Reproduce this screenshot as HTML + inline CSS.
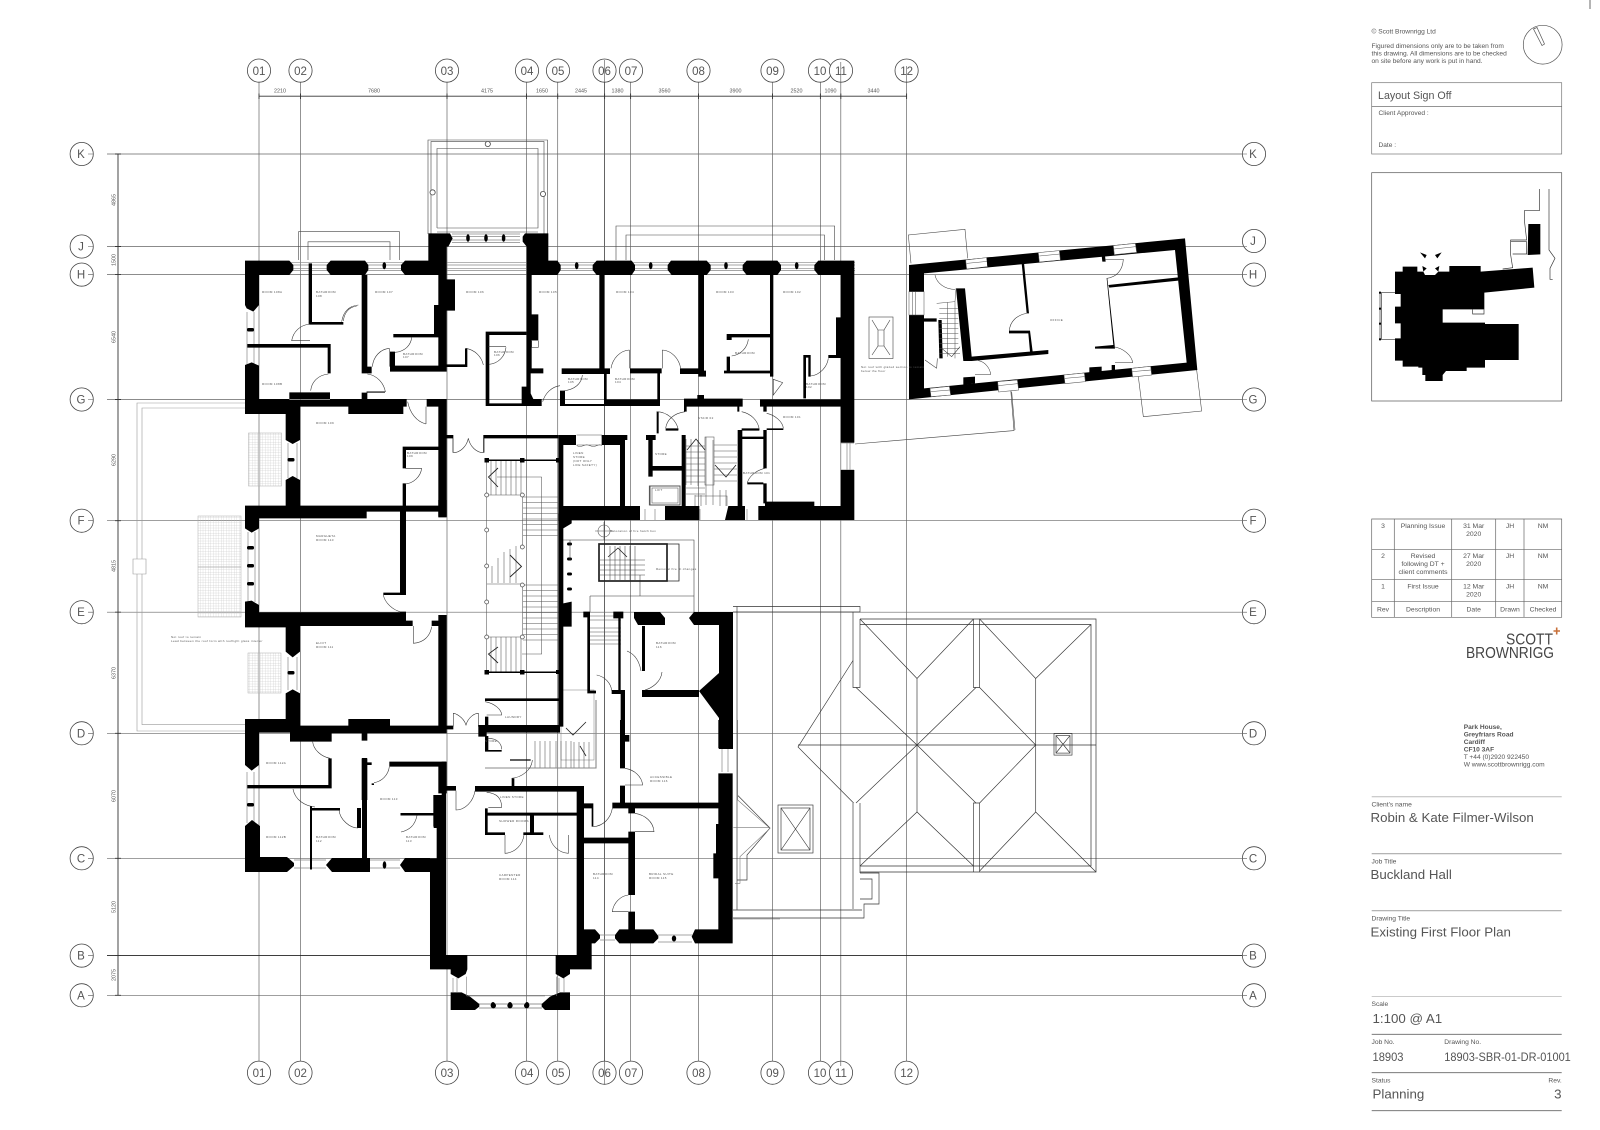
<!DOCTYPE html>
<html><head><meta charset="utf-8"><title>Existing First Floor Plan</title>
<style>html,body{margin:0;padding:0;background:#fff}svg{display:block;filter:blur(.3px)}text{font-family:"Liberation Sans",sans-serif;fill:#555}</style></head>
<body>
<svg xmlns="http://www.w3.org/2000/svg" width="1600" height="1130" viewBox="0 0 1600 1130">
<defs><pattern id="grid" width="2.6" height="2.6" patternUnits="userSpaceOnUse"><path d="M0 0H2.6M0 0V2.6" stroke="#bbb" stroke-width=".45" fill="none"/></pattern></defs>
<rect width="1600" height="1130" fill="#fff"/>

<!-- grid -->
<g stroke="#666" stroke-width=".7" fill="none">
<path d="M259 82V1061M300.5 82V1061M447 82V1061M526.5 82V1061M557.7 82V1061M630.6 82V1061M698.5 82V1061M772.5 82V1061M820.4 82V1061M840.8 82V1061M906.6 82V1061"/>
<path d="M604.6 82V1061" stroke="#222"/>
<path d="M107 154H1243M107 246.5H1243M107 274.6H1243M107 399.5H1243M107 520.7H1243M107 612.2H1243M107 733.3H1243M107 858.3H1243M107 995.3H1243"/>
<path d="M107 955.6H1243" stroke="#222" stroke-width=".9"/>
</g>
<g stroke="#333" stroke-width=".9" fill="none">
<path d="M259 96.2H906.6M118 154V995.3"/>
<path d="M259 93.5V99M300.5 93.5V99M447 93.5V99M526.5 93.5V99M557.7 93.5V99M604.6 93.5V99M630.6 93.5V99M698.5 93.5V99M772.5 93.5V99M820.4 93.5V99M840.8 93.5V99M906.6 93.5V99"/>
<path d="M115 154H121M115 246.5H121M115 274.6H121M115 399.5H121M115 520.7H121M115 612.2H121M115 733.3H121M115 858.3H121M115 955.6H121M115 995.3H121"/>
</g>
<g fill="#fff" stroke="#444" stroke-width=".8">
<circle cx="259" cy="70.6" r="11.6"/><circle cx="300.5" cy="70.6" r="11.6"/><circle cx="447" cy="70.6" r="11.6"/><circle cx="527" cy="70.6" r="11.6"/><circle cx="558" cy="70.6" r="11.6"/><circle cx="604.5" cy="70.6" r="11.6"/><circle cx="631" cy="70.6" r="11.6"/><circle cx="698.5" cy="70.6" r="11.6"/><circle cx="772.5" cy="70.6" r="11.6"/><circle cx="820" cy="70.6" r="11.6"/><circle cx="841" cy="70.6" r="11.6"/><circle cx="906.6" cy="70.6" r="11.6"/>
<circle cx="259" cy="1072.7" r="11.6"/><circle cx="300.5" cy="1072.7" r="11.6"/><circle cx="447" cy="1072.7" r="11.6"/><circle cx="527" cy="1072.7" r="11.6"/><circle cx="558" cy="1072.7" r="11.6"/><circle cx="604.5" cy="1072.7" r="11.6"/><circle cx="631" cy="1072.7" r="11.6"/><circle cx="698.5" cy="1072.7" r="11.6"/><circle cx="772.5" cy="1072.7" r="11.6"/><circle cx="820" cy="1072.7" r="11.6"/><circle cx="841" cy="1072.7" r="11.6"/><circle cx="906.6" cy="1072.7" r="11.6"/>
<circle cx="81.7" cy="154" r="11.6"/><circle cx="81.7" cy="246.5" r="11.6"/><circle cx="81.7" cy="274.6" r="11.6"/><circle cx="81.7" cy="399.5" r="11.6"/><circle cx="81.7" cy="520.7" r="11.6"/><circle cx="81.7" cy="612.2" r="11.6"/><circle cx="81.7" cy="733.3" r="11.6"/><circle cx="81.7" cy="858.3" r="11.6"/><circle cx="81.7" cy="955.6" r="11.6"/><circle cx="81.7" cy="995.3" r="11.6"/>
<circle cx="1254" cy="154" r="11.6"/><circle cx="1254" cy="241" r="11.6"/><circle cx="1254" cy="274.6" r="11.6"/><circle cx="1254" cy="399.5" r="11.6"/><circle cx="1254" cy="520.7" r="11.6"/><circle cx="1254" cy="612.2" r="11.6"/><circle cx="1254" cy="733.3" r="11.6"/><circle cx="1254" cy="858.3" r="11.6"/><circle cx="1254" cy="955.6" r="11.6"/><circle cx="1254" cy="995.3" r="11.6"/>
</g>
<g font-size="11.5" text-anchor="middle" style="fill:#444">
<text x="259" y="75">01</text><text x="300.5" y="75">02</text><text x="447" y="75">03</text><text x="527" y="75">04</text><text x="558" y="75">05</text><text x="604.5" y="75">06</text><text x="631" y="75">07</text><text x="698.5" y="75">08</text><text x="772.5" y="75">09</text><text x="820" y="75">10</text><text x="841" y="75">11</text><text x="906.6" y="75">12</text>
<text x="259" y="1077">01</text><text x="300.5" y="1077">02</text><text x="447" y="1077">03</text><text x="527" y="1077">04</text><text x="558" y="1077">05</text><text x="604.5" y="1077">06</text><text x="631" y="1077">07</text><text x="698.5" y="1077">08</text><text x="772.5" y="1077">09</text><text x="820" y="1077">10</text><text x="841" y="1077">11</text><text x="906.6" y="1077">12</text>
<text x="81" y="158">K</text><text x="81" y="250.5">J</text><text x="81" y="278.6">H</text><text x="81" y="403.5">G</text><text x="81" y="524.7">F</text><text x="81" y="616.2">E</text><text x="81" y="737.3">D</text><text x="81" y="862.3">C</text><text x="81" y="959.6">B</text><text x="81" y="999.3">A</text>
<text x="1253" y="158">K</text><text x="1253" y="245">J</text><text x="1253" y="278.6">H</text><text x="1253" y="403.5">G</text><text x="1253" y="524.7">F</text><text x="1253" y="616.2">E</text><text x="1253" y="737.3">D</text><text x="1253" y="862.3">C</text><text x="1253" y="959.6">B</text><text x="1253" y="999.3">A</text>
</g>
<!-- grid lines crossing into bubbles -->
<g stroke="#555" stroke-width=".6" fill="none">
<path d="M604.6 60V82M604.6 1061V1084M840.8 62V82M906.6 66V82M840.8 1061V1066"/>
<path d="M88 154H93.5M88 246.5H93.5M88 274.6H93.5M88 399.5H93.5M88 520.7H93.5M88 612.2H93.5M88 733.3H93.5M88 858.3H93.5M88 955.6H93.5M88 995.3H93.5"/>
<path d="M1243 154H1247M1243 246.5H1247M1243 274.6H1247M1243 399.5H1247M1243 520.7H1247M1243 612.2H1247M1243 733.3H1247M1243 858.3H1247M1243 955.6H1247M1243 995.3H1247"/>
</g>
<g font-size="5.4" text-anchor="middle" style="fill:#333">
<text x="280" y="92.5">2210</text><text x="374" y="92.5">7680</text><text x="487" y="92.5">4175</text><text x="542" y="92.5">1650</text><text x="581" y="92.5">2445</text><text x="617.5" y="92.5">1380</text><text x="664.5" y="92.5">3560</text><text x="735.5" y="92.5">3900</text><text x="796.5" y="92.5">2520</text><text x="830.5" y="92.5">1090</text><text x="873.5" y="92.5">3440</text>
<text transform="translate(115.5,200) rotate(-90)">4865</text><text transform="translate(115.5,260) rotate(-90)">1500</text><text transform="translate(115.5,337) rotate(-90)">6540</text><text transform="translate(115.5,460) rotate(-90)">6290</text><text transform="translate(115.5,566) rotate(-90)">4815</text><text transform="translate(115.5,673) rotate(-90)">6370</text><text transform="translate(115.5,796) rotate(-90)">6070</text><text transform="translate(115.5,907) rotate(-90)">5120</text><text transform="translate(115.5,975) rotate(-90)">2075</text>
</g>

<!-- terraces, balconies, roof outlines -->
<g fill="none" stroke="#444" stroke-width=".6">
<path d="M428 234V140H547.5V234M431 234V141.6H544V234M437 228V148.5H538V228H437M437 232H538"/>
<path d="M298.5 260V231.7H399.5V260M308 260V241.8H390V260"/>
<path d="M616 260V226H834.7V260M626 260V235H824.5V260"/>
<path d="M245 403H137V731H245M245 408H142V724.6H245" stroke="#999"/>
<path d="M133 559H146V574H133Z" stroke="#999" fill="#fff"/>
<path d="M855 444L1014 430.6L1010.7 389"/>
<rect x="869" y="317" width="24" height="41.5"/><path d="M872 320L878 330V346L872 355M890 320L884 330V346L890 355M878 330H884M878 346H884"/>
</g>
<g fill="#fff" stroke="#444" stroke-width=".8"><circle cx="487.8" cy="144" r="2.6"/><circle cx="432.6" cy="192.4" r="2.6"/><circle cx="543" cy="194" r="2.6"/></g>
<g fill="url(#grid)" stroke="#aaa" stroke-width=".5"><rect x="248.5" y="433" width="33" height="53"/><rect x="198" y="516" width="43" height="51"/><rect x="198" y="567" width="43" height="50"/><rect x="248" y="653" width="33" height="40"/></g>
<g fill="none" stroke="#333" stroke-width=".65">
<path d="M733 606.5H860V612H733M737 606.5V910M853 612V687.5H860V619M853 803V909M860 803V873"/>
<path d="M860 619H1096V872H860M860 624.5H1091V866H860" stroke-width=".7"/>
<path d="M973.5 619V687.5H979.6V619M973.5 872V803H979.6V872"/>
<path d="M860 619L917 678.5L973.5 619M979.6 619L1035.7 678.5L1091 624.5M917 678.5V812M1035.7 678.5V812"/>
<path d="M853 660.5L798 747L853.6 803M856 687.5L917 745L976 687.5M979.6 687.5L1035.7 745L979.6 803M976 803L917 745L856 803"/>
<path d="M860 866L917 812L973.5 866M979.6 871L1035.7 812L1096 872M798 745H1096" />
<path d="M860 873H879V904H864V918H733M733 910H862M860 879H872V899H860"/>
<path d="M738 795.6L770 828L747 855V880H737"/>
<rect x="778" y="805" width="35" height="48"/><rect x="781" y="808" width="29" height="42" /><path d="M781 808L810 850M810 808L781 850"/>
<rect x="1054" y="733.6" width="18" height="21.5"/><rect x="1056" y="735.6" width="14" height="17.5"/><path d="M1056 735.6L1070 753M1070 735.6L1056 753"/>
</g>

<!-- windows -->
<g stroke="#888" stroke-width=".7" fill="none">
<path d="M290 262.7H855M290 265H855M290 268.3H855M290 270.5H855"/>
<path d="M452 234H520M452 236.5H520M452 240H520M452 242.5H520"/>
<path d="M247 312V368M254 312V368M288 443V478M297 443V478M288 657V690M297 657V690M248 532V602M255 532V602M247 772V823M254 772V823"/>
<path d="M294 860H326M294 868H326M370 860H400M370 868H400M600 935H615M600 940H615M658 935H692M658 942H692"/>
<path d="M453 978V992M457 978V992M559 978V992M564 978V992"/>
<path d="M479 1004H542M479 1008H542" stroke="#aaa" stroke-width="1.2"/>
<path d="M847 443V470M850 443V470M841 443H854M841 470H854"/>
<path d="M722 749V772M728 749V772"/>
<path d="M645 509V520M655 509V520M700 509V520M740 509V520M747 509V520"/>
</g>
<g fill="#000"><ellipse cx="468" cy="238" rx="1.8" ry="3.8"/><ellipse cx="486" cy="238" rx="1.8" ry="3.8"/><ellipse cx="503.6" cy="238" rx="1.8" ry="3.8"/><ellipse cx="384.3" cy="265.7" rx="1.8" ry="3.6"/><ellipse cx="576.7" cy="265.7" rx="1.8" ry="3.6"/><ellipse cx="650.7" cy="265.7" rx="1.8" ry="3.6"/><ellipse cx="726" cy="265.7" rx="1.8" ry="3.6"/><ellipse cx="796.7" cy="265.7" rx="1.8" ry="3.6"/>
<rect x="247" y="328" width="7" height="3.5" rx="1.5"/><rect x="287.5" y="458" width="7" height="3.5" rx="1.5"/><rect x="247" y="546" width="7" height="3.5" rx="1.5"/><rect x="247" y="564" width="7" height="3.5" rx="1.5"/><rect x="247" y="582" width="7" height="3.5" rx="1.5"/><rect x="287.5" y="671" width="7" height="3.5" rx="1.5"/><rect x="247" y="803" width="7" height="3.5" rx="1.5"/>
<ellipse cx="384.5" cy="865" rx="1.8" ry="3.8"/><ellipse cx="674" cy="938.5" rx="2.2" ry="3"/><ellipse cx="493" cy="1005" rx="2.2" ry="3"/><ellipse cx="510" cy="1005" rx="2.2" ry="3"/><ellipse cx="527" cy="1005" rx="2.2" ry="3"/>
<rect x="567" y="542.5" width="5" height="3" rx="1.5"/><rect x="567" y="557.5" width="5" height="3" rx="1.5"/><rect x="567" y="572.5" width="5" height="3" rx="1.5"/><rect x="567" y="587.5" width="5" height="3" rx="1.5"/></g>

<!-- stairs main -->
<g fill="none" stroke="#555" stroke-width=".55">
<path d="M491 461V495M496 461V495M501 461V495M506 461V495M511 461V495M516 461V495M521 461V495"/>
<path d="M523 497H558M523 502.5H558M523 508H558M523 513.5H558M523 519H558M523 524.5H558M523 530H558M523 535.5H558M523 585H558M523 590.5H558M523 596H558M523 601.5H558M523 607H558M523 612.5H558M523 618H558M523 623.5H558M523 629H558M523 634.5H558M523 640H558"/>
<path d="M491 637V672M496 637V672M501 637V672M506 637V672M511 637V672M516 637V672M521 637V672"/>
<path d="M541.7 477V654H522M497 477H541.7M486.7 460V672M522.3 495V547M522.3 585V637M486.7 495H522.3M486.7 637H522.3M486.7 584H522.3"/>
<path d="M492 583V566M498 583V558M504 583V552M510 583V549M516 583V546"/>
</g>
<g fill="none" stroke="#222" stroke-width=".9"><path d="M498 468L488.5 477L498 487M510 555L521.5 566.5L510 577M498 647L488.5 654L498 663"/></g>
<g fill="#fff" stroke="#444" stroke-width=".7"><circle cx="486.7" cy="495" r="2"/><circle cx="486.7" cy="530" r="2"/><circle cx="486.7" cy="566" r="2"/><circle cx="486.7" cy="602" r="2"/><circle cx="486.7" cy="637" r="2"/><circle cx="522.3" cy="495" r="2"/><circle cx="522.3" cy="547" r="2"/><circle cx="522.3" cy="585" r="2"/><circle cx="522.3" cy="637" r="2"/></g>
<g fill="#000"><rect x="484.5" y="458" width="4.5" height="4.5"/><rect x="520" y="458" width="4.5" height="4.5"/><rect x="556" y="458" width="4.5" height="4.5"/><rect x="484.5" y="670" width="4.5" height="4.5"/><rect x="520" y="670" width="4.5" height="4.5"/><rect x="556" y="670" width="3" height="4"/><path d="M486 459.5H560V461H486ZM486 671.5H560V673H486Z"/></g>

<!-- east stair 02 & service stair -->
<g fill="none" stroke="#555" stroke-width=".55">
<path d="M686 439V485M691 439V485M698 440V486" />
<path d="M686 446H705M686 452H705M686 458H705M686 464H705M686 470H705M686 476H705M686 482H705M686 488H705M686 494H705"/>
<path d="M714 445H737M714 451H737M714 457H737M714 463H737M714 469H737M714 475H737M714 481H737"/>
<rect x="705" y="437" width="9" height="48" fill="#fff"/>
<path d="M706 437V505M713 440V505M695 495V506M701 495V506M720 490V506M726 490V506M695 496H727V506"/>
<rect x="650" y="486" width="30" height="19" stroke="#333" stroke-width=".8"/><rect x="652" y="488" width="26" height="15"/>
<path d="M560 540H694V596H640V575M570 540V560M694 540V612M590 596H694M590 596V612" stroke="#333"/>
<path d="M600 560H645M600 565H645M600 570H645M600 575H645M610 546V580M615 546V580M620 546V580M625 546V580M630 546V580M635 546V580" stroke="#444"/>
<path d="M590 628H621M590 632H621M590 636H621M590 640H621M590 644H621M590 620H621M590 616H621" />
<rect x="561" y="690" width="33" height="70" stroke="#888"/>
<path d="M574 742V768M579 742V768M584 742V768M589 742V768M556 741V768M561 741V768M566 741V768M571 741V768M540 741V768M545 741V768M550 741V768M535 741V768"/>
<path d="M485 768H596V700" stroke="#888" stroke-width="1.1"/>
<circle cx="604" cy="531" r="6"/><path d="M595 531H613M604 522V540" />
</g>
<g fill="none" stroke="#222" stroke-width=".8"><path d="M608 557L618 548L627 557M566 728L573 735L586 722M580 746L586 756"/>
<path d="M687 450L696 439L705 450M715 465L726 477L736 465"/>
<rect x="599" y="544" width="68" height="37" stroke="#222" stroke-width="1.7"/><path d="M667 544H679V581H667"/></g>

<!-- doors & black: upper west -->
<g transform="translate(230,220) scale(.33333)">
<path fill="#000" fill-rule="evenodd" d="M45 122H178L190 135V150L178 165H87V255L70 275L50 265L45 255Z
M45 435L65 427L87 437V537H530V560H520V582H355V560H210V660L188 672L167 660V582H45Z
M178 517H300V540H178Z M167 780L188 768L210 780V860H167Z
M590 537H650V890H625V560H590Z
M302 122H405L415 135V150L405 165H302L290 150V135Z
M595 40H660L668 55L655 80H650V178H675V272H650V455H480V395H495V437H625V352H490V342H612V255H625V165H525L513 150V135L525 122H595Z
M395 165H412V440H425V460H395Z M236 130H246V306H340V314H236Z M52 372H302V460H293V383H52Z
M395 518H412V537H395Z M410 515H465V518H410Z
M650 433H705V385H712V441H650Z M767 335H890V345H778V550H890V558H767Z
M518 680H625V690H528V745H518Z M518 790H528V860H518Z
M650 645H670V698H668V655H650Z M760 655H985V645H760V698H763V655Z"/>
<g fill="none" stroke="#333" stroke-width="1.7">
<path d="M385 255C355 258 340 275 335 305M380 258C357 262 343 278 340 303M240 312C210 315 190 335 185 362H240M295 462C265 465 245 485 242 512M412 462C440 465 462 490 466 515H410M478 385C450 388 430 410 427 440M478 385V440M545 352C543 375 525 395 495 397M708 385C735 390 755 410 760 435M828 382C825 410 805 430 778 433M775 380H828M533 545C540 580 560 605 588 612M588 560V612M670 698C690 698 710 680 715 655C720 680 740 698 760 698M575 745C572 770 550 790 525 792M525 745H575"/>
</g></g>
<!-- upper east -->
<g transform="translate(500,220) scale(.33333)">
<path fill="#000" d="M68 50L75 40H145V122H172L182 135V150L172 165H95V283H115V360H95V445H130V460H92V520L100 537H125V558H65V500H80V80L68 65Z
M290 122H395L405 135V150L395 165H312V445H330V462H185V445H298V165H290L278 150V135Z
M513 122H620L632 135V150L620 165H612V452H618V470H595V462H540V445H595V165H515L503 150V135Z
M740 122H832L843 135V150L832 165H820V470H810V165H740L728 150V135Z
M955 122H1063V668H1022V405H1008V292H1022V165H955L943 150V135Z
M775 858H795V845H943V858H1022V750H1063V900H775Z
M910 405H932V470H925V413H918V535H910Z M985 405H1022V414H985Z
M680 342H810V352H695V360H680Z M680 410H690V452H810V460H672V452H680Z
M390 445H485V460H480V538H472V460H390Z M312 450H320V538H480V558H312Z M180 512H195V552H312V558H180Z
M552 536H592V525H612V536H728V560H718V575H712V560H560V575H552Z
M780 538H1022V560H800V575H790V560H780Z
M470 575H476V640H470Z M497 625H535V632H497Z M725 625H778V632H725Z M800 625H850V630H800Z
M438 645H467V660H458V738H545V645H557V858H545V752H458V770H445V660H438Z
M713 630H727V650H790V630H800V745H790V657H727V860H713Z M790 790H800V850H790Z M742 787H790V793H742Z
M175 645H228V675H190V858H175Z M305 645H382V660H375V858H360V675H305Z
M175 858H420V900H175Z M495 858H598V900H495Z M685 858H735V900H675Z"/>
<rect x="95" y="362" width="20" height="20" fill="#fff" stroke="#333" stroke-width="1.7"/>
<rect x="448" y="798" width="92" height="57" fill="none" stroke="#555" stroke-width="2.5"/>
<path d="M230 645H305V650M230 675H305M230 677Q240 682 250 677T270 677T290 677T305 677" fill="none" stroke="#555" stroke-width="1.7"/>
<g fill="none" stroke="#333" stroke-width="1.7">
<path d="M388 390C360 392 338 415 333 445M388 390V445M487 390C515 392 537 415 542 445M487 390V445M745 358C742 385 720 405 695 408M247 465C245 490 225 510 187 513M180 497C155 500 135 520 128 545M848 488L820 478V525ZM985 415C982 440 960 465 932 468M470 575C500 575 530 600 535 630M555 575C520 580 500 600 497 625M725 575C750 580 775 600 778 630M800 580C825 585 848 605 850 625M795 745C770 750 745 770 742 790"/>
</g></g>
<!-- middle west -->
<g transform="translate(230,500) scale(.33333)">
<path fill="#000" d="M45 17H625V0H650V52H625V35H410V55H87V85L65 98L45 85Z
M510 35H528V285H460V278H510Z
M45 305L65 302L87 315V337H510V335H528V362H548V378H210V455L188 472L167 455V382H45Z
M605 362H625V345H650V678H625V378H605Z
M188 568L210 580V677H355V657H480V677H670V688H650V700H412V722H395V700H305V725H180V698H87V795L65 812L45 795V657H167V580Z
M745 675H990V698H770V710H745Z M765 650H775V675H765Z M765 595H985V603H765Z
M985 40H1025V70L1000 85V310L1025 305V380H1000V680H985Z
M1060 335H1080V572H1098V580H1072V352H1060Z M1150 335H1180V355H1172V570H1185V800H1172V582H1145V570H1165V355H1150Z
M395 775H412V900H395Z M412 787H425V850H432V855H425V795H412Z M478 785H650V880H625V800H478Z M295 775H305V865H52V855H295Z
M765 708H775V750H815V755H765Z"/>
<g fill="none" stroke="#333" stroke-width="1.7">
<path d="M460 285C465 310 490 330 510 335M550 378V430M605 380C600 410 580 428 550 430M670 680V640C675 640 700 650 708 675C715 650 735 640 745 640V680M765 605C795 610 815 630 815 645H770M775 715C800 715 815 730 815 748M248 725C250 750 275 770 300 775M432 848C455 845 475 825 478 800M1100 525C1125 530 1143 550 1145 572"/>
</g></g>
<!-- lower centre -->
<g transform="translate(420,720) scale(.33333)">
<path fill="#000" d="M65 125H78V705H142V748L137 762L115 775L92 762V748H30V455H0V415H50V320H40V225H65Z
M78 198H108V212H78Z
M165 198H492V250H520V320H515V265H492V628H525L540 645V655L525 670H515V748H450V762L430 775L407 762V705H470V215H165Z
M585 645L598 628H700L715 648V655L700 670H598L585 655Z
M815 650L825 628H895V160H938V670H825Z M895 0H938V85H895Z M880 400H895V475H880Z M888 312H895V400H888Z
M600 0H615V45H628V65H615V145H600Z
M600 197H615V248H895V265H577V248H600Z
M625 265H645V280H625Z M625 335H645V525H625Z M625 575H645V630H625Z M492 353H625V370H492Z
M195 265H203V278H470V287H342V337H370V345H310V337H330V287H203V337H255V345H195Z
M275 175H283V198H275Z M270 118H332V122H270Z
M92 817H125L150 830L178 852V860L165 870H92Z M450 817V870H375L365 860V852L390 830L420 817Z"/>
<g fill="none" stroke="#333" stroke-width="1.7">
<path d="M108 212V270C135 270 160 245 165 212M200 217C235 220 245 240 245 262H205M275 175C305 172 335 150 337 120M255 345V400C285 398 308 375 312 345M445 345V400C415 398 392 375 388 345M520 320C550 318 572 295 577 265M615 145C645 150 665 170 668 195H615M645 280C675 285 700 305 702 335H645M625 525C600 528 580 550 577 575H625"/>
<path stroke="#777" d="M140 770V828M410 770V828M140 828H375M953 0V240L1050 325L960 410V490H945M940 323H1050M940 570H1080M940 597H1080"/>
</g>
<g fill="#000"><ellipse cx="220" cy="857" rx="8" ry="8"/><ellipse cx="270" cy="857" rx="8" ry="8"/><ellipse cx="320" cy="857" rx="8" ry="8"/></g>
</g>
<!-- real coordinate walls -->
<path fill="#000" d="M245 826L252 820L260 826V857H287L294 863V866L287 872H245Z M332 858H370V872H332L326 865Z M400 865L405 858H430V872H405Z
M362 758H367V860H362Z M310 806H312V869.5H310Z M310 808H340V810.5H310Z M357 808H361V828H357Z M400.5 813H433.7V815.5H400.5Z M433.7 795.6H439V828H433.7Z
M634 612H660L665 618V625H638L634 618Z M689 618L694 612H733V749H719V625H694Z M642 626H645V671H642Z
M719 673L699 691L719 718Z M642 690H699V697H642Z"/>
<g fill="none" stroke="#333" stroke-width=".6">
<path d="M627 651C637 655 640 665 641 671M662 672C661 682 652 688 645 690M293 789C295 800 305 806 315 807M339 810C340 820 350 828 358 828M417 815.5C415 825 410 830 401 832"/>
</g>

<!-- outbuilding -->
<g transform="translate(900,220) scale(.33333)">
<path fill="none" stroke="#444" stroke-width="1.7" d="M33 130L25 45L195 28L203 115M345 630L335 515M730 590L905 573L890 450M730 590L715 470"/>
<path fill="#000" fill-rule="evenodd" d="M27 135L855 55L892 450L27 538Z M72 160L825 90L860 428L72 505Z"/>
<g fill="#fff" stroke="#555" stroke-width="1.6">
<path d="M197 120L260 113L263 140L200 147ZM415 98L478 92L481 120L418 126ZM640 77L706 70L710 97L643 104ZM90 505L148 499L152 525L93 530ZM293 485L352 480L356 510L296 516ZM492 465L553 459L556 485L495 491ZM695 445L752 439L755 465L698 471Z"/>
<rect x="27" y="215" width="45" height="70"/>
<path d="M200 130L262 124M418 108L480 102M642 87L708 80M92 515L150 510M295 497L354 491M494 475L554 470M697 455L753 450M37 215V285M47 215V285" fill="none"/>
</g>
<path fill="#000" d="M168 205H195L215 410L445 390V402L215 423H190Z M260 112L315 110V135L262 140Z M315 122L415 112L416 125L315 132Z M365 130L372 128L387 280H380ZM327 332L390 332L398 395H390L385 340L327 340Z M612 175L620 175L640 375L585 380V386H645L622 175Z M625 195L835 172L835 182L628 203Z M568 442L605 440V455L568 458Z M635 435H645V450H635Z M605 107L615 107L617 125L607 125Z M72 295H110V305H72Z M115 300H125L128 415H118Z M190 472L225 470V490L190 495Z"/>
<g fill="none" stroke="#333" stroke-width="1.6">
<path d="M105 165C110 190 135 208 165 208M235 422C255 425 270 445 272 463H225M328 332C330 305 350 285 380 280M620 175C650 172 668 150 670 118H615M640 380C670 385 695 405 698 428H645M110 445L75 420M110 445L112 415"/>
<path stroke="#555" d="M110 250L165 245V415M118 265H175M118 280H175M118 295H175M118 310H175M118 325H175M118 340H175M118 355H175M118 370H175M118 385H178M118 400H180M143 247V410M165 245L168 205"/>
<path stroke="#222" d="M125 385L155 410L180 380"/>
</g></g>

<!-- tiny room labels -->
<g font-size="3" style="fill:#777" letter-spacing=".35">
<text x="262" y="293">ROOM 108A</text><text x="316" y="293">BATHROOM</text><text x="316" y="297">108</text><text x="375" y="293">ROOM 107</text><text x="466" y="293">ROOM 106</text><text x="539" y="293">ROOM 105</text><text x="616" y="293">ROOM 104</text><text x="716" y="293">ROOM 103</text><text x="783" y="293">ROOM 102</text>
<text x="262" y="385">ROOM 108B</text><text x="403" y="355">BATHROOM</text><text x="403" y="358">107</text><text x="494" y="353">BATHROOM</text><text x="494" y="356">106</text><text x="568" y="380">BATHROOM</text><text x="568" y="383">105</text><text x="615" y="380">BATHROOM</text><text x="615" y="383">104</text><text x="735" y="354">BATHROOM</text><text x="806" y="385">BATHROOM</text><text x="806" y="388">102</text>
<text x="316" y="424">ROOM 109</text><text x="407" y="454">BATHROOM</text><text x="407" y="457">109</text><text x="698" y="419">STAIR 02</text><text x="655" y="455">STORE</text><text x="655" y="491">LIFT</text><text x="743" y="474">BATHROOM 101</text><text x="783" y="418">ROOM 101</text><text x="573" y="454">LINEN</text><text x="573" y="458">STORE</text><text x="573" y="462">(NOT ONLY</text><text x="573" y="466">LIFE SAFETY)</text>
<text x="316" y="537">MARGHETA</text><text x="316" y="541">ROOM 110</text><text x="316" y="644">ELIOT</text><text x="316" y="648">ROOM 111</text>
<text x="266" y="764">ROOM 112A</text><text x="266" y="838">ROOM 112B</text><text x="316" y="838">BATHROOM</text><text x="316" y="842">112</text><text x="380" y="800">ROOM 113</text><text x="406" y="838">BATHROOM</text><text x="406" y="842">113</text>
<text x="505" y="718">LAUNDRY</text><text x="485" y="742">STORE</text><text x="500" y="798">LINEN STORE</text><text x="499" y="822">SHOWER ROOMS</text><text x="499" y="876">CARPENTER</text><text x="499" y="880">ROOM 114</text><text x="593" y="875">BATHROOM</text><text x="593" y="879">114</text><text x="649" y="875">BRIDAL SUITE</text><text x="649" y="879">ROOM 115</text><text x="650" y="778">ACCESSIBLE</text><text x="650" y="782">ROOM 116</text><text x="656" y="644">BATHROOM</text><text x="656" y="648">116</text>
<text x="1050" y="321">OFFICE</text>
<text x="171" y="638">Not roof to remain</text><text x="171" y="642">Lead between the roof form with rooflight glass interior</text>
<text x="861" y="368">Not roof with glazed section to remain</text><text x="861" y="372">below the floor</text>
<text x="610" y="532">Relocation of fire hatch box</text><text x="656" y="570">Removal fire fit changes</text>
</g>

<!-- title block -->
<path d="M1590 0V9" stroke="#444" stroke-width=".8"/>
<g font-size="6.6"><text x="1371.5" y="33.5">© Scott Brownrigg Ltd</text><text x="1371.5" y="48">Figured dimensions only are to be taken from</text><text x="1371.5" y="55.5">this drawing. All dimensions are to be checked</text><text x="1371.5" y="63">on site before any work is put in hand.</text></g>
<g fill="none" stroke="#555" stroke-width=".7"><circle cx="1542.7" cy="44.7" r="19.4"/><path d="M1533.5 29L1537 27.5L1544.5 44L1542 45.5Z"/>
<rect x="1371.7" y="82.7" width="190" height="71.3" stroke="#777"/><path d="M1371.7 106.7H1561.7"/><rect x="1371.7" y="172.7" width="190" height="228.3"/></g>
<text x="1378" y="99" font-size="10.7">Layout Sign Off</text><text x="1378.5" y="115" font-size="6.6">Client Approved :</text><text x="1378.5" y="147" font-size="6.6">Date :</text>
<g transform="translate(1360,0) scale(.33333)">
<path fill="#000" d="M105 815H128V800H172V815H190L195 825H225L235 815H268V798H362V815L518 803L523 863L373 878V928H248V968H375V972H476V1080H375V1103H320V1113H258L248 1125V1143H196V1125H187V1103H175V1100H128V1082H105V1015H122V970H105V920H122V882H105Z M505 672H541V763L503 765Z M180 757L200 765L195 775ZM245 757L225 765L232 775ZM187 798L200 805L190 815ZM238 798L225 805L235 815Z"/>
<g fill="none" stroke="#333" stroke-width="2"><path d="M538 567V632H493V660L500 720H452V765L458 803L428 807M567 567V750L585 775L570 805V838H578M60 878H105M60 878V1018H105M64 878V1018M452 725H500V762H458M338 928V942H372V928"/></g>
<rect x="57" y="875" width="6" height="6"/><rect x="57" y="923" width="6" height="6"/><rect x="57" y="968" width="6" height="6"/><rect x="57" y="1015" width="6" height="6"/>
</g>
<g fill="none" stroke="#666" stroke-width=".7"><path d="M1371.7 519H1561.7V617.3H1371.7ZM1371.7 549.3H1561.7M1371.7 579.7H1561.7M1371.7 601.7H1561.7M1394.3 519V617.3M1451.7 519V617.3M1495.7 519V617.3M1524 519V617.3"/></g>
<g font-size="6.8" text-anchor="middle">
<text x="1383" y="528">3</text><text x="1423" y="528">Planning Issue</text><text x="1473.7" y="528">31 Mar</text><text x="1473.7" y="536">2020</text><text x="1510" y="528">JH</text><text x="1543" y="528">NM</text>
<text x="1383" y="558">2</text><text x="1423" y="558">Revised</text><text x="1423" y="566">following DT +</text><text x="1423" y="574">client comments</text><text x="1473.7" y="558">27 Mar</text><text x="1473.7" y="566">2020</text><text x="1510" y="558">JH</text><text x="1543" y="558">NM</text>
<text x="1383" y="588.5">1</text><text x="1423" y="588.5">First Issue</text><text x="1473.7" y="588.5">12 Mar</text><text x="1473.7" y="596.5">2020</text><text x="1510" y="588.5">JH</text><text x="1543" y="588.5">NM</text>
<text x="1383" y="611.5">Rev</text><text x="1423" y="611.5">Description</text><text x="1473.7" y="611.5">Date</text><text x="1510" y="611.5">Drawn</text><text x="1543" y="611.5">Checked</text>
</g>
<text x="1506" y="644.5" font-size="16" textLength="47" lengthAdjust="spacingAndGlyphs" style="fill:#444">SCOTT</text>
<text x="1466" y="658" font-size="16" textLength="88" lengthAdjust="spacingAndGlyphs" style="fill:#444">BROWNRIGG</text>
<path d="M1553.5 631H1560M1556.7 627.5V634.5" stroke="#c8703a" stroke-width="1.6"/>
<g font-size="6.6"><g font-weight="bold"><text x="1463.7" y="729">Park House,</text><text x="1463.7" y="736.5">Greyfriars Road</text><text x="1463.7" y="744">Cardiff</text><text x="1463.7" y="751.5">CF10 3AF</text></g><text x="1463.7" y="759">T +44 (0)2920 922450</text><text x="1463.7" y="766.5">W www.scottbrownrigg.com</text></g>
<g stroke="#888" fill="none"><path d="M1371.7 796.7H1561.7" stroke="#bbb" stroke-width="1"/><path d="M1371.7 853.7H1561.7M1371.7 910.7H1561.7" stroke="#aaa" stroke-width="1.2"/><path d="M1371.7 996.3H1561.7" stroke="#aaa" stroke-width=".7"/><path d="M1371.7 1034.3H1561.7M1371.7 1072.7H1561.7M1371.7 1110.7H1561.7" stroke="#666" stroke-width=".8"/></g>
<g font-size="6.7"><text x="1371.5" y="806.7">Client's name</text><text x="1371.5" y="863.7">Job Title</text><text x="1371.5" y="920.7">Drawing Title</text><text x="1371.5" y="1006">Scale</text><text x="1371.5" y="1044">Job No.</text><text x="1444.3" y="1044">Drawing No.</text><text x="1371.5" y="1082.3">Status</text><text x="1561.7" y="1082.3" text-anchor="end">Rev.</text></g>
<g font-size="13.3"><text x="1370.5" y="822">Robin &amp; Kate Filmer-Wilson</text><text x="1370.5" y="879">Buckland Hall</text><text x="1370.5" y="936.5">Existing First Floor Plan</text><text x="1372.5" y="1023">1:100 @ A1</text><text x="1372.5" y="1098.5">Planning</text><text x="1561.5" y="1098.5" text-anchor="end">3</text></g>
<text x="1372.5" y="1061" font-size="12" textLength="31" lengthAdjust="spacingAndGlyphs">18903</text>
<text x="1444.3" y="1061" font-size="12" textLength="126.5" lengthAdjust="spacingAndGlyphs">18903-SBR-01-DR-01001</text>
</svg>
</body></html>
